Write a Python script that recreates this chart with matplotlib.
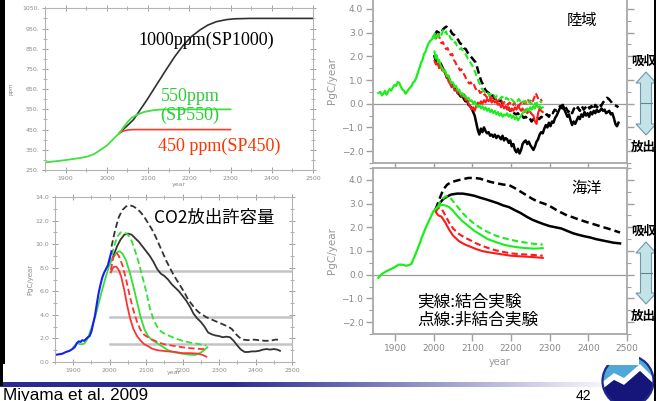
import numpy as np
import matplotlib
matplotlib.use("Agg")
import matplotlib.pyplot as plt
from matplotlib.patches import Polygon, Rectangle, Circle
from matplotlib.ticker import FixedLocator, MultipleLocator

# ---------------- CO2 concentration scenarios (ppm) ----------------
conc_hist_year = [1850, 1870, 1900, 1920, 1940, 1955, 1970, 1985, 2000, 2010, 2020, 2030]
conc_hist_ppm = [287, 292, 299, 305, 311, 318, 330, 350, 371, 391, 412, 432]
sp1000_year = [2030, 2040, 2050, 2065, 2080, 2097, 2120, 2145, 2165, 2185, 2205, 2226,
               2245, 2266, 2290, 2310, 2347, 2500]
sp1000_ppm = [432, 452, 470, 500, 545, 596, 670, 750, 812, 866, 910, 943,
              967, 984, 994, 998, 1000, 1000]
sp550_year = [2030, 2040, 2050, 2060, 2075, 2090, 2110, 2130, 2160, 2300]
sp550_ppm = [432, 460, 487, 508, 525, 537, 545, 549, 550, 550]
sp450_year = [2030, 2040, 2050, 2065, 2300]
sp450_ppm = [432, 443, 448, 450, 450]

# ---------------- Allowable CO2 emissions (PgC/year) ----------------
obs_em_year = [1850, 1860, 1870, 1880, 1890, 1900, 1905, 1910, 1915, 1920, 1925, 1930, 1935,
               1940, 1945, 1950, 1955, 1960, 1965, 1970, 1975, 1980, 1985, 1990, 1995, 2000, 2005]
obs_em = [0.6, 0.65, 0.7, 0.85, 0.95, 1.15, 1.3, 1.6, 1.75, 1.7, 1.85, 1.8, 1.95,
          2.1, 2.2, 2.6, 3.3, 4.0, 5.0, 5.9, 6.6, 7.2, 7.6, 7.9, 8.2, 8.8, 9.4]
model_em_year = [1900, 1910, 1920, 1930, 1940, 1950, 1960, 1970, 1980, 1990, 2000]
model_em = [1.25, 1.6, 1.5, 1.55, 2.0, 2.9, 3.8, 5.0, 6.2, 7.3, 8.3]

em1000_c_year = [2005, 2010, 2020, 2030, 2040, 2050, 2060, 2070, 2080, 2090, 2100, 2110, 2120,
                 2130, 2140, 2150, 2160, 2170, 2180, 2190, 2200, 2210, 2220, 2230, 2240, 2250,
                 2260, 2270, 2280, 2290, 2300, 2310, 2320, 2330, 2340, 2350, 2360, 2370, 2380,
                 2390, 2400, 2410, 2420, 2430, 2440, 2450, 2460, 2467]
em1000_c = [8.6, 9.0, 9.8, 10.4, 10.8, 10.9, 10.8, 10.5, 10.2, 9.8, 9.4, 9.0, 8.5,
            7.9, 7.5, 7.3, 7.0, 6.6, 6.3, 6.0, 5.6, 5.2, 4.7, 4.1, 3.7, 3.4,
            3.0, 2.5, 2.35, 2.25, 2.2, 2.1, 2.15, 2.1, 1.8, 1.4, 1.05, 0.85, 0.85,
            0.9, 0.9, 0.95, 1.05, 1.1, 1.05, 1.1, 1.05, 0.95]
em1000_u_year = [2005, 2015, 2025, 2035, 2045, 2055, 2065, 2075, 2085, 2095, 2105, 2115, 2125,
                 2135, 2145, 2155, 2165, 2175, 2185, 2195, 2205, 2215, 2225, 2235, 2245, 2255,
                 2265, 2280, 2295, 2310, 2325, 2335, 2345, 2355, 2365, 2380, 2395, 2410, 2425,
                 2440, 2455, 2467]
em1000_u = [9.8, 11.2, 12.3, 12.9, 13.2, 13.3, 13.2, 13.0, 12.7, 12.3, 11.8, 11.3, 10.7,
            10.0, 9.3, 8.6, 8.0, 7.4, 6.9, 6.4, 5.9, 5.3, 4.9, 4.5, 4.2, 4.0,
            3.8, 3.6, 3.4, 3.2, 3.0, 2.8, 2.4, 2.1, 1.9, 1.85, 1.9, 1.85, 1.8,
            1.8, 1.9, 1.9]
em550_c_year = [2000, 2010, 2020, 2027, 2035, 2045, 2055, 2065, 2075, 2085, 2095, 2105, 2115,
                2125, 2135, 2145, 2160, 2180, 2200, 2220, 2235, 2250, 2260, 2268]
em550_c = [8.3, 8.9, 9.3, 9.4, 9.2, 8.6, 7.6, 6.4, 5.1, 3.8, 2.8, 2.2, 1.9,
           1.7, 1.5, 1.3, 1.0, 0.8, 0.7, 0.62, 0.6, 0.8, 1.05, 1.25]
em550_u_year = [2000, 2010, 2020, 2030, 2040, 2050, 2060, 2070, 2080, 2090, 2100, 2110, 2120,
                2130, 2140, 2150, 2165, 2180, 2200, 2220, 2240, 2255, 2265]
em550_u = [8.3, 9.6, 10.6, 11.0, 11.0, 10.8, 10.3, 9.4, 8.4, 7.2, 6.0, 4.6, 3.6,
           3.0, 2.6, 2.4, 2.2, 2.0, 1.8, 1.65, 1.55, 1.45, 1.4]
em450_c_year = [2003, 2010, 2018, 2025, 2032, 2040, 2048, 2056, 2065, 2075, 2085, 2095, 2105,
                2115, 2130, 2145, 2160, 2180, 2200, 2220, 2240, 2255, 2265]
em450_c = [7.6, 8.05, 8.1, 7.8, 7.2, 6.1, 4.8, 3.7, 2.8, 2.2, 1.8, 1.5, 1.35,
           1.15, 1.0, 0.95, 0.9, 0.85, 0.75, 0.75, 0.72, 0.6, 0.45]
em450_u_year = [2003, 2010, 2018, 2025, 2035, 2045, 2055, 2065, 2075, 2085, 2095, 2105, 2120,
                2135, 2150, 2170, 2190, 2210, 2230, 2250, 2265]
em450_u = [7.8, 8.9, 9.3, 9.0, 8.2, 7.0, 5.6, 4.4, 3.4, 2.7, 2.3, 2.1, 1.85,
           1.65, 1.5, 1.4, 1.3, 1.2, 1.15, 1.1, 1.1]
em_ref_levels = [7.7, 3.85, 1.55]

# ---------------- Land carbon uptake (PgC/year) ----------------
land_hist_year = [1857, 1862, 1866, 1870, 1874, 1878, 1882, 1886, 1890, 1895, 1899, 1903, 1907,
                  1911, 1915, 1919, 1923, 1927, 1931, 1935, 1939, 1943, 1947, 1951, 1955, 1959,
                  1963, 1967, 1971, 1975, 1979, 1983, 1987, 1991, 1995, 1999, 2003]
land_hist = [0.45, 0.5, 0.35, 0.42, 0.55, 0.38, 0.5, 0.62, 0.55, 0.7, 0.8, 0.75, 0.92,
             0.88, 0.72, 0.6, 0.55, 0.42, 0.5, 0.6, 0.68, 0.75, 0.9, 0.95, 1.1, 1.3,
             1.5, 1.7, 1.85, 2.1, 2.2, 2.4, 2.55, 2.65, 2.7, 2.85, 2.95]
land1000_u_year = list(range(2003, 2479, 5))
land1000_u = [2.9, 3.05, 3.0, 3.15, 3.1, 3.2, 3.25, 3.15, 3.1, 2.95, 2.9, 2.8, 2.7, 2.55,
              2.5, 2.35, 2.3, 2.15, 2.05, 1.95, 1.85, 1.75, 1.5, 1.2, 0.95, 0.8, 0.6, 0.5,
              0.45, 0.3, 0.35, 0.2, 0.25, 0.1, 0.15, 0.0, -0.05, -0.15, -0.2, -0.3, -0.25,
              -0.4, -0.45, -0.4, -0.55, -0.5, -0.6, -0.55, -0.65, -0.6, -0.75, -0.65, -0.7,
              -0.6, -0.65, -0.55, -0.6, -0.5, -0.45, -0.55, -0.35, -0.4, -0.25, -0.3, -0.15,
              -0.1, -0.2, -0.05, -0.2, -0.35, -0.25, -0.4, -0.2, -0.3, -0.15, -0.3, -0.1,
              -0.25, -0.15, -0.05, -0.2, -0.1, -0.25, -0.05, -0.15, 0.0, -0.1, 0.05, 0.15,
              0.25, 0.2, 0.1, 0.0, -0.05, -0.1, -0.15]
land1000_c_year = list(range(2002, 2479, 4))
land1000_c = [2.0, 1.75, 1.85, 1.6, 1.7, 1.55, 1.4, 1.3, 1.1, 1.15, 0.95, 0.85, 0.8, 0.65,
              0.6, 0.45, 0.4, 0.3, 0.35, 0.2, 0.1, 0.15, -0.05, -0.1, -0.2, -0.35, -0.5,
              -0.8, -1.1, -1.3, -1.05, -1.2, -1.0, -1.15, -1.25, -1.2, -1.35, -1.3, -1.4,
              -1.3, -1.45, -1.35, -1.4, -1.5, -1.35, -1.55, -1.45, -1.5, -1.65, -1.55, -1.8,
              -1.7, -1.95, -2.05, -1.9, -2.1, -1.95, -1.7, -1.6, -1.55, -1.7, -1.6, -1.75,
              -1.85, -1.95, -1.8, -1.6, -1.5, -1.3, -1.2, -1.25, -1.05, -0.9, -1.0, -0.8,
              -0.95, -0.75, -0.8, -0.6, -0.5, -0.35, -0.2, -0.1, -0.05, -0.25, -0.4, -0.55,
              -0.45, -0.7, -0.9, -0.75, -0.85, -0.7, -0.55, -0.65, -0.45, -0.55, -0.35, -0.5,
              -0.4, -0.55, -0.35, -0.45, -0.3, -0.4, -0.25, -0.35, -0.3, -0.2, -0.3, -0.25,
              -0.4, -0.35, -0.3, -0.45, -0.4, -0.6, -0.85, -0.95, -0.8]
land450_u_year = list(range(2000, 2281, 4))
land450_u = [2.75, 2.85, 2.7, 2.9, 2.75, 2.55, 2.6, 2.4, 2.3, 2.35, 2.15, 2.05, 2.1, 1.85,
             1.75, 1.6, 1.55, 1.4, 1.45, 1.3, 1.2, 1.05, 0.95, 0.85, 0.9, 0.75, 0.8, 0.65,
             0.55, 0.6, 0.45, 0.5, 0.35, 0.4, 0.3, 0.25, 0.35, 0.2, 0.25, 0.15, 0.2, 0.1,
             0.15, 0.05, 0.1, 0.0, 0.1, 0.05, -0.05, 0.05, 0.0, -0.1, 0.05, -0.05, 0.0,
             -0.1, 0.0, 0.05, -0.05, 0.1, 0.0, 0.15, 0.05, 0.2, 0.1, 0.25, 0.45, 0.3, 0.15,
             0.2, 0.1]
land450_c_year = list(range(2002, 2283, 4))
land450_c = [1.8, 1.65, 1.75, 1.5, 1.6, 1.4, 1.45, 1.25, 1.2, 0.95, 0.85, 0.7, 0.75, 0.55,
             0.6, 0.45, 0.5, 0.35, 0.3, 0.4, 0.15, 0.2, 0.0, -0.1, -0.25, -0.15, -0.3, -0.1,
             0.05, -0.05, 0.1, 0.0, 0.15, 0.05, 0.2, 0.1, 0.2, 0.05, 0.15, 0.05, 0.1, -0.05,
             0.0, -0.15, -0.05, -0.2, -0.1, -0.25, -0.15, -0.3, -0.2, -0.3, -0.15, -0.25,
             -0.1, -0.2, -0.3, -0.2, -0.35, -0.25, -0.4, -0.3, -0.35, -0.45, -0.5, -0.75,
             -0.85, -0.4, -0.2, -0.3, -0.35]
land550_u_year = list(range(2000, 2281, 4))
land550_u = [2.85, 2.75, 2.95, 2.8, 3.0, 2.9, 3.1, 2.95, 3.05, 2.85, 2.9, 2.75, 2.7, 2.55,
             2.6, 2.45, 2.4, 2.3, 2.35, 2.2, 2.15, 2.05, 1.9, 1.85, 1.7, 1.6, 1.45, 1.3,
             1.1, 0.95, 0.8, 0.65, 0.55, 0.5, 0.4, 0.45, 0.35, 0.4, 0.3, 0.35, 0.25, 0.35,
             0.3, 0.2, 0.3, 0.25, 0.15, 0.25, 0.2, 0.1, 0.2, 0.15, 0.05, 0.15, 0.1, 0.2,
             0.1, 0.0, 0.1, 0.05, 0.15, 0.05, 0.1, 0.0, 0.1, 0.05, -0.05, 0.05, 0.0, 0.1,
             0.05]
land550_c_year = [2002, 2005, 2008, 2011, 2014] + list(range(2018, 2283, 4))
land550_c = [2.2, 1.9, 2.05, 1.75, 1.85, 1.6, 1.5, 1.35, 1.4, 1.15, 1.2, 1.0, 0.85, 0.9,
             0.7, 0.75, 0.55, 0.6, 0.4, 0.45, 0.3, 0.35, 0.2, 0.25, 0.1, 0.15, 0.0, 0.1,
             -0.05, -0.15, -0.05, -0.2, -0.1, -0.25, -0.15, -0.3, -0.2, -0.35, -0.25, -0.4,
             -0.3, -0.45, -0.35, -0.5, -0.4, -0.55, -0.45, -0.5, -0.4, -0.55, -0.45, -0.6,
             -0.5, -0.65, -0.55, -0.7, -0.6, -0.5, -0.4, -0.3, -0.35, -0.2, -0.3, -0.15,
             -0.25, -0.1, -0.2, -0.05, -0.15, -0.1, -0.2, -0.15]

# ---------------- Ocean carbon uptake (PgC/year) ----------------
ocean_hist_year = [1857, 1865, 1875, 1887, 1897, 1905, 1912, 1920, 1928, 1935, 1942, 1950,
                   1960, 1970, 1980, 1990, 2000, 2010]
ocean_hist = [-0.13, 0.02, 0.12, 0.22, 0.3, 0.38, 0.43, 0.42, 0.38, 0.4, 0.45, 0.75,
              1.15, 1.6, 2.0, 2.35, 2.7, 2.85]
ocean1000_u_year = [2005, 2015, 2025, 2035, 2045, 2060, 2075, 2090, 2105, 2120, 2135, 2150,
                    2165, 2180, 2195, 2210, 2225, 2240, 2255, 2270, 2285, 2300, 2315, 2330,
                    2345, 2360, 2375, 2390, 2405, 2420, 2435, 2450, 2465, 2482]
ocean1000_u = [2.75, 3.2, 3.6, 3.8, 3.9, 3.97, 4.03, 4.08, 4.08, 4.05, 3.97, 3.9,
               3.85, 3.8, 3.78, 3.65, 3.5, 3.35, 3.2, 3.08, 3.0, 2.9, 2.75, 2.62,
               2.5, 2.42, 2.33, 2.25, 2.17, 2.1, 2.02, 1.95, 1.87, 1.78]
ocean1000_c_year = ocean1000_u_year
ocean1000_c = [2.75, 3.0, 3.2, 3.3, 3.38, 3.42, 3.42, 3.38, 3.33, 3.25, 3.18, 3.1,
               3.02, 2.92, 2.85, 2.72, 2.6, 2.45, 2.32, 2.22, 2.13, 2.05, 2.0, 1.95,
               1.85, 1.75, 1.68, 1.62, 1.57, 1.5, 1.45, 1.4, 1.35, 1.32]
ocean550_year = [2010, 2020, 2030, 2040, 2050, 2060, 2075, 2090, 2105, 2120, 2140, 2160,
                 2180, 2200, 2220, 2240, 2260, 2282]
ocean550_u = [2.85, 3.15, 3.3, 3.3, 3.1, 2.9, 2.6, 2.35, 2.15, 1.98, 1.8, 1.65,
              1.55, 1.47, 1.4, 1.35, 1.3, 1.27]
ocean550_c = [2.85, 2.95, 2.92, 2.85, 2.7, 2.5, 2.25, 2.05, 1.85, 1.7, 1.5, 1.38,
              1.27, 1.2, 1.15, 1.12, 1.1, 1.12]
ocean450_year = [2005, 2012, 2020, 2030, 2040, 2050, 2065, 2080, 2095, 2110, 2125, 2140,
                 2160, 2180, 2200, 2220, 2240, 2260, 2282]
ocean450_u = [2.65, 2.82, 2.8, 2.5, 2.2, 1.95, 1.72, 1.57, 1.45, 1.32, 1.22, 1.13,
              1.03, 0.96, 0.9, 0.87, 0.85, 0.83, 0.8]
ocean450_c = [2.65, 2.5, 2.45, 2.2, 1.9, 1.65, 1.42, 1.28, 1.18, 1.08, 1.0, 0.95,
              0.9, 0.85, 0.8, 0.78, 0.76, 0.74, 0.71]

# ---------------- labels ----------------
conc_ticks = [250, 350, 450, 550, 650, 750, 850, 950, 1050]
em_ticks = [0, 2, 4, 6, 8, 10, 12, 14]
flux_ticks = [-2, -1, 0, 1, 2, 3, 4]
year_ticks = [1900, 2000, 2100, 2200, 2300, 2400, 2500]

W, H = 662, 401
fig = plt.figure(figsize=(W / 100, H / 100), dpi=100)
fig.patch.set_facecolor("white")

JP = ["Noto Sans CJK JP", "DejaVu Sans"]
SERIF = ["Liberation Serif", "Noto Sans CJK JP"]
GRAY = "#8c8c8c"


def px_axes(x0, y0, x1, y1):
    return fig.add_axes([x0 / W, 1 - y1 / H, (x1 - x0) / W, (y1 - y0) / H])


def small_frame(ax, lab_size):
    for s in ax.spines.values():
        s.set_color("#b4b4b4")
        s.set_linewidth(0.8)
    ax.tick_params(which="both", direction="inout", colors="#a0a0a0",
                   labelcolor=GRAY, labelsize=lab_size, top=True, right=True, pad=1.5)
    ax.tick_params(which="major", length=5, width=0.7)
    ax.tick_params(which="minor", length=3, width=0.6)


# ---- concentration panel ----
ax1 = px_axes(45, 8.3, 313, 170)
ax1.plot(sp1000_year, sp1000_ppm, color="#303030", lw=1.2)
ax1.plot(sp450_year, sp450_ppm, color="#ff3a22", lw=1.2)
ax1.plot(sp550_year, sp550_ppm, color="#3fe03f", lw=1.3)
ax1.plot(conc_hist_year, conc_hist_ppm, color="#3fe03f", lw=1.3)
ax1.set_xlim(1850, 2500)
ax1.set_ylim(250, 1050)
small_frame(ax1, 4.5)
ax1.yaxis.set_major_locator(FixedLocator(conc_ticks))
ax1.set_yticklabels([f"{v}." for v in conc_ticks])
ax1.yaxis.set_minor_locator(MultipleLocator(50))
ax1.xaxis.set_major_locator(FixedLocator(year_ticks))
ax1.set_xticklabels([str(v) for v in year_ticks])
ax1.xaxis.set_minor_locator(MultipleLocator(50))
ax1.set_xlabel("year", fontsize=4.5, color=GRAY, labelpad=1)
ax1.set_ylabel("ppm", fontsize=4, color=GRAY, labelpad=6)

# ---- allowable emission panel ----
ax2 = px_axes(55, 197, 292, 362)
for lvl in em_ref_levels:
    ax2.plot([2000, 2500], [lvl, lvl], color="#c4c4c4", lw=1.8, zorder=1)
ax2.plot(em1000_u_year, em1000_u, color="#333333", lw=1.3, dashes=(3.5, 1.8))
ax2.plot(em1000_c_year, em1000_c, color="#333333", lw=1.3)
ax2.plot(em550_u_year, em550_u, color="#33e033", lw=1.3, dashes=(3.5, 1.8))
ax2.plot(em550_c_year, em550_c, color="#33e033", lw=1.3)
ax2.plot(model_em_year, model_em, color="#33e033", lw=1.3)
ax2.plot(em450_u_year, em450_u, color="#ff3333", lw=1.3, dashes=(3.5, 1.8))
ax2.plot(em450_c_year, em450_c, color="#ff3333", lw=1.3)
ax2.plot(obs_em_year, obs_em, color="#1a1aff", lw=1.5)
ax2.set_xlim(1850, 2500)
ax2.set_ylim(0, 14)
small_frame(ax2, 4.5)
ax2.yaxis.set_major_locator(FixedLocator(em_ticks))
ax2.set_yticklabels([f"{v:.1f}" for v in em_ticks])
ax2.yaxis.set_minor_locator(MultipleLocator(1))
ax2.xaxis.set_major_locator(FixedLocator(year_ticks))
ax2.set_xticklabels([str(v) for v in year_ticks])
ax2.xaxis.set_minor_locator(MultipleLocator(50))
ax2.set_xlabel("year", fontsize=4.5, color=GRAY, labelpad=-2)
ax2.set_ylabel("PgC/year", fontsize=5, color=GRAY, labelpad=2)


def flux_frame(ax, show_x):
    for name, s in ax.spines.items():
        s.set_color("#a8a8a8")
        s.set_linewidth(1.3)
    ax.set_xlim(1843, 2500)
    ax.set_ylim(-2.5, 4.5)
    ax.axhline(0, color="#9a9a9a", lw=0.9, zorder=1)
    ax.yaxis.set_major_locator(FixedLocator(flux_ticks))
    ax.set_yticklabels([f"{v:.1f}".replace("-", "\u2212") for v in flux_ticks])
    ax.yaxis.set_minor_locator(MultipleLocator(0.5))
    ax.xaxis.set_major_locator(FixedLocator(year_ticks))
    ax.tick_params(which="both", direction="out", colors="#a0a0a0",
                   labelcolor="#888888", labelsize=6.5, right=True, pad=2)
    ax.tick_params(which="major", length=5, width=1.0)
    ax.tick_params(which="minor", length=3, width=0.8)
    ax.set_ylabel("PgC/year", fontsize=7.5, color="#999999", labelpad=3)
    if show_x:
        ax.set_xticklabels([str(v) for v in year_ticks])
        ax.set_xlabel("year", fontsize=7, color="#999999", labelpad=3)
    else:
        ax.tick_params(axis="x", labelbottom=False)


DASH = (3.0, 1.6)

# ---- land panel ----
ax3 = px_axes(373, -3, 627, 163)
flux_frame(ax3, False)
ax3.plot(land1000_u_year, land1000_u, color="black", lw=1.8, dashes=DASH)
ax3.plot(land1000_c_year, land1000_c, color="black", lw=1.8)
ax3.plot(land450_u_year, land450_u, color="#ff1a1a", lw=1.5, dashes=DASH)
ax3.plot(land450_c_year, land450_c, color="#ff1a1a", lw=1.5)
ax3.plot(land550_u_year, land550_u, color="#1aee1a", lw=1.5, dashes=DASH)
ax3.plot(land550_c_year, land550_c, color="#1aee1a", lw=1.5)
ax3.plot(land_hist_year, land_hist, color="#1aee1a", lw=1.6)

# ---- ocean panel ----
ax4 = px_axes(373, 168, 627, 334)
flux_frame(ax4, True)
ax4.plot(ocean1000_u_year, ocean1000_u, color="black", lw=1.8, dashes=DASH)
ax4.plot(ocean1000_c_year, ocean1000_c, color="black", lw=1.8)
ax4.plot(ocean450_year, ocean450_u, color="#ff1a1a", lw=1.5, dashes=DASH)
ax4.plot(ocean450_year, ocean450_c, color="#ff1a1a", lw=1.5)
ax4.plot(ocean550_year, ocean550_u, color="#1aee1a", lw=1.5, dashes=DASH)
ax4.plot(ocean550_year, ocean550_c, color="#1aee1a", lw=1.5)
ax4.plot(ocean_hist_year, ocean_hist, color="#1aee1a", lw=1.6)

# ---- slide decorations and annotations, in pixel coordinates ----
ov = fig.add_axes([0, 0, 1, 1], zorder=10)
ov.axis("off")

# scenario labels
ov.text(138, 45, "1000ppm(SP1000)", family=SERIF, fontsize=13, color="black", va="baseline")
ov.text(161, 101, "550ppm", family=SERIF, fontsize=13, color="#2fcc3a", va="baseline")
ov.text(160, 120, "(SP550)", family=SERIF, fontsize=13, color="#2fcc3a", va="baseline")
ov.text(158, 151, "450 ppm(SP450)", family=SERIF, fontsize=13, color="#ff3300", va="baseline")
ov.text(154, 218, "CO2放出許容量", family=JP, fontsize=12.5, color="black", va="center")
ov.text(567, 20, "陸域", family=JP, fontsize=11, color="black", va="center")
ov.text(571, 188, "海洋", family=JP, fontsize=11, color="black", va="center")
ov.text(417, 302, "実線:結合実験", family=JP, fontsize=12, color="black", va="center")
ov.text(417, 320, "点線:非結合実験", family=JP, fontsize=12, color="black", va="center")

# uptake / release arrows
for tip_top, mid, tip_bot in [(72, 103, 135), (242, 273, 304)]:
    cx = 646
    head = 11
    arrow = [(cx, tip_top), (cx + 10, tip_top + head), (cx + 5.5, tip_top + head),
             (cx + 5.5, tip_bot - head), (cx + 10, tip_bot - head), (cx, tip_bot),
             (cx - 10, tip_bot - head), (cx - 5.5, tip_bot - head),
             (cx - 5.5, tip_top + head), (cx - 10, tip_top + head)]
    ov.add_patch(Polygon(arrow, closed=True, facecolor="#c4e3e8", edgecolor="#6d98a6", lw=0.8))
    ov.plot([cx - 5.5, cx + 5.5], [mid, mid], color="#5f8794", lw=0.8)
    ov.text(631, tip_top - 11, "吸収", family=JP, fontsize=9, fontweight="bold",
            color="black", va="center")
    ov.text(631, tip_bot + 12, "放出", family=JP, fontsize=9, fontweight="bold",
            color="black", va="center")

# right margin beyond the slide border
ov.add_patch(Rectangle((656, 0), 8, 362, facecolor="white", edgecolor="none"))

# logo, partly hidden behind the chart area
logo_clip = Circle((628, 381), 25.5, transform=ov.transData)
disc = Circle((628, 381), 25.5, facecolor="#4fa8d8", edgecolor="none")
ov.add_patch(disc)
band = Polygon([(600, 384), (614, 373), (624, 378), (640, 364), (656, 380), (656, 386),
                (640, 371), (624, 385), (614, 380), (600, 391)], closed=True,
               facecolor="white", edgecolor="none")
navy = Polygon([(600, 391), (614, 380), (624, 385), (640, 371), (656, 386), (656, 410),
                (600, 410)], closed=True, facecolor="#15157a", edgecolor="none")
for p in (band, navy):
    ov.add_patch(p)
    p.set_clip_path(logo_clip)
ov.add_patch(Circle((628, 381), 25.5, facecolor="none", edgecolor="#1e2a8a", lw=1.6))
ov.add_patch(Rectangle((598, 352), 41, 13, facecolor="white", edgecolor="none"))

# footer band
ramp = np.clip((np.arange(W) - 230) / 390.0, 0, 1)
navy_rgb = np.array([0.17, 0.17, 0.56])
grad = navy_rgb[None, :] * (1 - ramp[:, None]) + ramp[:, None] * np.array([1.0, 1.0, 1.0])
ov.imshow(grad[None, :, :], extent=[0, W, 387, 382], aspect="auto", interpolation="bilinear")

# slide borders
ov.add_patch(Rectangle((0, 0), 5, 364, facecolor="black", edgecolor="none"))
ov.add_patch(Rectangle((0, 364), 2.5, 22, facecolor="black", edgecolor="none"))
ov.add_patch(Rectangle((653.5, 0), 2.5, H, facecolor="black", edgecolor="none"))

ov.text(3, 400, "Miyama et al. 2009", family=["Liberation Sans", "DejaVu Sans"],
        fontsize=12.3, color="black", va="baseline")
ov.text(576, 400, "42", family=["Liberation Sans", "DejaVu Sans"], fontsize=10,
        color="black", va="baseline")

ov.set_xlim(0, W)
ov.set_ylim(H, 0)

fig.savefig("out.png", dpi=100, facecolor="white")
